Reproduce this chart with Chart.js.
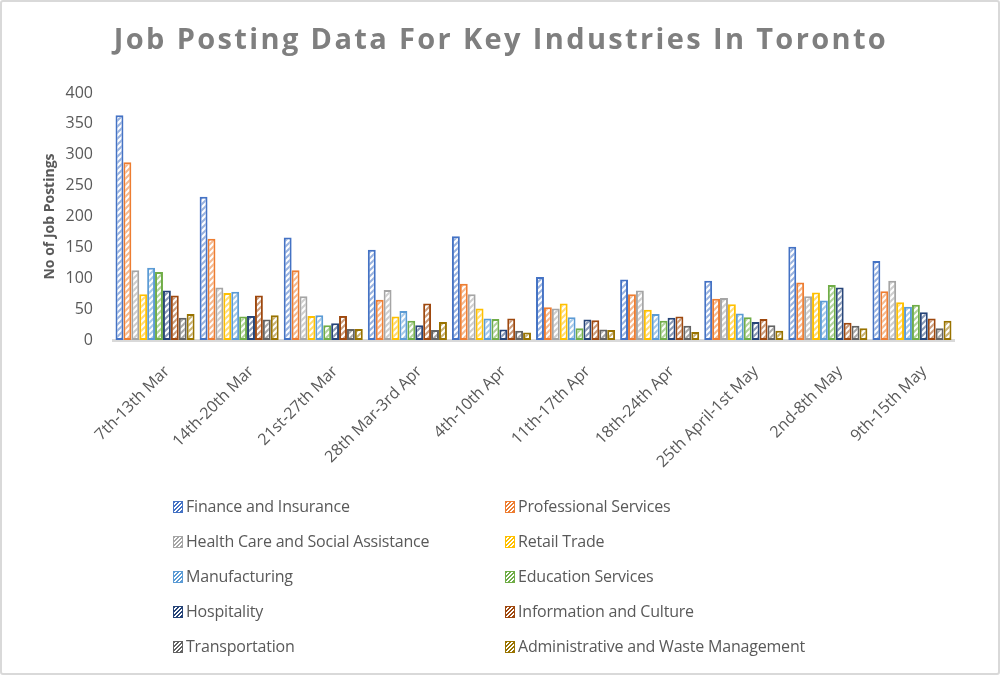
<!DOCTYPE html>
<html>
<head>
<meta charset="utf-8">
<script src="https://cdn.jsdelivr.net/npm/chart.js@4/dist/chart.umd.min.js"></script>
<style>
  body { margin: 0; background: #fff; }
  #wrap { position: relative; width: 1000px; height: 675px; box-sizing: border-box; border: 2px solid #d9d9d9; border-radius: 3px; overflow: hidden; background: #fff; }
  #jobChart { position: absolute; left: 0; top: 0; }
  .leg { position: absolute; height: 20px; line-height: 20px; font-family: "Open Sans", sans-serif; font-size: 16px; color: #595959; white-space: nowrap; letter-spacing: -0.2px; }
  .sw { display: inline-block; width: 8px; height: 10px; margin-right: 3px; vertical-align: -1px; border: 1px solid; }
</style>
</head>
<body>
<div id="wrap">
  <canvas id="jobChart" width="996" height="671"></canvas>
  <div id="legend"></div>
</div>
<script>
const chartTitle = 'Job Posting Data For Key Industries In Toronto';
const yTitle = 'No of Job Postings';

const weeks = ['7th-13th Mar', '14th-20th Mar', '21st-27th Mar', '28th Mar-3rd Apr', '4th-10th Apr',
               '11th-17th Apr', '18th-24th Apr', '25th April-1st May', '2nd-8th May', '9th-15th May'];

const industries = ['Finance and Insurance', 'Professional Services', 'Health Care and Social Assistance',
                    'Retail Trade', 'Manufacturing', 'Education Services', 'Hospitality',
                    'Information and Culture', 'Transportation', 'Administrative and Waste Management'];

const colors = ['#4472C4', '#ED7D31', '#A5A5A5', '#FFC000', '#5B9BD5', '#70AD47', '#264478', '#9E480E', '#636363', '#997300'];

// postings per week, one array per industry
const finance        = [364, 232, 166, 146, 168, 102, 98, 96, 151, 128];
const professional   = [288, 164, 113, 65, 91, 53, 74, 67, 93, 79];
const healthCare     = [113, 85, 71, 81, 74, 51, 80, 68, 71, 96];
const retail         = [74, 76, 39, 38, 51, 59, 49, 58, 77, 61];
const manufacturing  = [117, 78, 40, 47, 35, 37, 42, 43, 64, 54];
const education      = [110, 38, 24, 31, 34, 19, 31, 37, 89, 57];
const hospitality    = [80, 39, 27, 24, 17, 33, 36, 29, 85, 45];
const infoCulture    = [72, 72, 39, 59, 35, 32, 38, 34, 28, 35];
const transportation = [36, 33, 18, 16, 15, 17, 23, 24, 23, 19];
const adminWaste     = [42, 40, 18, 29, 12, 16, 13, 15, 19, 31];

const seriesValues = [finance, professional, healthCare, retail, manufacturing,
                      education, hospitality, infoCulture, transportation, adminWaste];

// diagonal hatch fill like the excel pattern
function hatch(color) {
    const c = document.createElement('canvas');
    c.width = c.height = 6;
    const g = c.getContext('2d');
    g.fillStyle = '#fff';
    g.fillRect(0, 0, 6, 6);
    g.strokeStyle = color;
    g.globalAlpha = 0.55;
    g.lineWidth = 2;
    g.beginPath();
    g.moveTo(0, 6); g.lineTo(6, 0);
    g.moveTo(-1, 1); g.lineTo(1, -1);
    g.moveTo(5, 7); g.lineTo(7, 5);
    g.stroke();
    return g.createPattern(c, 'repeat');
}

const spacedTitle = {
    id: 'spacedTitle',
    afterDraw(chart) {
        const ctx = chart.ctx;
        ctx.save();
        ctx.font = 'bold 29px "Open Sans"';
        ctx.fillStyle = '#7f7f7f';
        ctx.textAlign = 'center';
        ctx.textBaseline = 'alphabetic';
        const w = ctx.measureText(chartTitle).width;
        ctx.letterSpacing = Math.max(0, (772 - w) / (chartTitle.length - 1)) + 'px';
        ctx.fillText(chartTitle, 499, 47);
        ctx.restore();
    }
};

const ctx = document.getElementById('jobChart').getContext('2d');
const jobChart = new Chart(ctx, {
    type: 'bar',
    data: {
        labels: weeks,
        datasets: industries.map((name, i) => ({
            label: name,
            data: seriesValues[i],
            backgroundColor: hatch(colors[i]),
            borderColor: colors[i],
            borderWidth: 2,
            borderSkipped: false,
            categoryPercentage: 0.94,
            barPercentage: 1.0
        }))
    },
    options: {
        responsive: false,
        animation: false,
        layout: {
            padding: { top: 91, left: 40, right: 44, bottom: 0 }
        },
        plugins: {
            legend: { display: false },
            title: { display: false },
            tooltip: { enabled: false }
        },
        scales: {
            x: {
                grid: { display: false },
                border: { color: '#d9d9d9', width: 3 },
                ticks: {
                    color: '#595959',
                    font: { family: 'Open Sans', size: 16 },
                    minRotation: 45,
                    maxRotation: 45,
                    autoSkip: false,
                    padding: 14,
                    labelOffset: 12
                },
                afterFit: function(scale) { scale.height = 333; }
            },
            y: {
                min: 0,
                max: 400,
                grid: { display: false },
                border: { display: false },
                ticks: {
                    stepSize: 50,
                    color: '#595959',
                    font: { family: 'Open Sans', size: 16 },
                    padding: 12
                },
                title: {
                    display: true,
                    text: yTitle,
                    color: '#595959',
                    font: { family: 'Open Sans', size: 14, weight: 'bold' },
                    padding: { top: 0, bottom: 0 }
                },
                afterFit: function(scale) { scale.width = 71; }
            }
        }
    },
    plugins: [spacedTitle]
});

// two column legend under the chart
const legend = document.getElementById('legend');
industries.forEach((name, i) => {
    const row = Math.floor(i / 2);
    const col = i % 2;
    const item = document.createElement('div');
    item.className = 'leg';
    item.style.left = (col === 0 ? 171 : 503) + 'px';
    item.style.top = (494 + row * 35) + 'px';
    const sw = document.createElement('span');
    sw.className = 'sw';
    sw.style.borderColor = colors[i];
    sw.style.background = 'repeating-linear-gradient(-45deg, ' + colors[i] + ' 0 1.5px, #fff 1.5px 3px)';
    item.appendChild(sw);
    item.appendChild(document.createTextNode(name));
    legend.appendChild(item);
});
</script>
</body>
</html>
